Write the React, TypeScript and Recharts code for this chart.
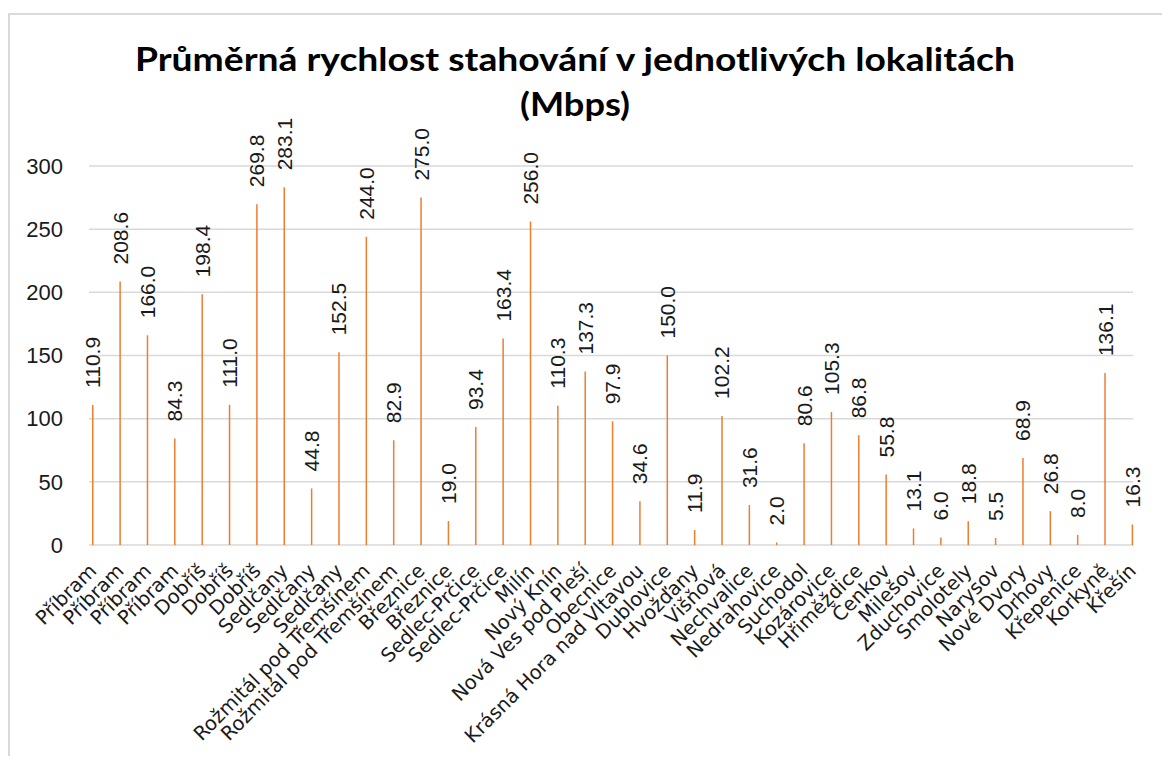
import React from 'react';
import { BarChart, Bar, XAxis, YAxis, CartesianGrid, LabelList } from 'recharts';

// localities (x axis)
const places = [
  'Příbram', 'Příbram', 'Příbram', 'Příbram', 'Dobříš', 'Dobříš', 'Dobříš',
  'Sedlčany', 'Sedlčany', 'Sedlčany', 'Rožmitál pod Třemšínem', 'Rožmitál pod Třemšínem',
  'Březnice', 'Březnice', 'Sedlec-Prčice', 'Sedlec-Prčice', 'Milín', 'Nový Knín',
  'Nová Ves pod Pleší', 'Obecnice', 'Krásná Hora nad Vltavou', 'Dublovice', 'Hvožďany',
  'Višňová', 'Nechvalice', 'Nedrahovice', 'Suchodol', 'Kozárovice', 'Hřiměždice',
  'Čenkov', 'Milešov', 'Zduchovice', 'Smolotely', 'Narysov', 'Nové Dvory', 'Drhovy',
  'Křepenice', 'Korkyně', 'Křešín',
];

// average download speed, Mbps
const speeds = [
  110.9, 208.6, 166.0, 84.3, 198.4, 111.0, 269.8, 283.1, 44.8, 152.5, 244.0, 82.9,
  275.0, 19.0, 93.4, 163.4, 256.0, 110.3, 137.3, 97.9, 34.6, 150.0, 11.9, 102.2,
  31.6, 2.0, 80.6, 105.3, 86.8, 55.8, 13.1, 6.0, 18.8, 5.5, 68.9, 26.8, 8.0, 136.1, 16.3,
];

const yTicks = [0, 50, 100, 150, 200, 250, 300];

const titleLines = ['Průměrná rychlost stahování v jednotlivých lokalitách', '(Mbps)'];

const data = places.map((p, i) => ({ key: `c${i}`, name: p, value: speeds[i] }));

const PlaceTick = (props: any) => {
  const { x, y, payload } = props;
  const label = places[payload.index] ?? '';
  return (
    <g transform={`translate(${x + 5},${y + 27}) rotate(-45)`}>
      <text textAnchor="end" fontFamily="DejaVu Sans" fontSize={19.5} fill="#1a1a1a">
        {label}
      </text>
    </g>
  );
};

const ValueLabel = (props: any) => {
  const { x, y, width, value } = props;
  const cx = x + width / 2;
  const ty = y - 17;
  return (
    <text
      x={cx}
      y={ty}
      transform={`rotate(-90, ${cx}, ${ty})`}
      textAnchor="start"
      dominantBaseline="central"
      fontFamily="Liberation Sans"
      fontSize={21}
      fill="#1a1a1a"
    >
      {Number(value).toFixed(1)}
    </text>
  );
};

export default function App() {
  return (
    <div style={{ width: 1154, height: 748, overflow: 'hidden', position: 'relative', background: '#fff' }}>
      <div
        style={{
          position: 'absolute', left: 0, top: 5, width: 1300, height: 900,
          border: '2px solid #d9d9d9', boxSizing: 'border-box',
        }}
      />
      <div style={{ position: 'absolute', left: 0, top: 0 }}>
        <BarChart
          width={1154}
          height={748}
          data={data}
          margin={{ top: 158, right: 29, bottom: 11, left: 21 }}
          barCategoryGap={0}
        >
          <text x={567} y={63} textAnchor="middle" fontFamily="Lato" fontWeight={700}
            fontSize={33} fill="#000" textLength={880} lengthAdjust="spacingAndGlyphs">
            {titleLines[0]}
          </text>
          <text x={567} y={108} textAnchor="middle" fontFamily="Lato" fontWeight={700}
            fontSize={33} fill="#000" textLength={110} lengthAdjust="spacingAndGlyphs">
            {titleLines[1]}
          </text>
          <CartesianGrid vertical={false} stroke="#d9d9d9" strokeWidth={1.5} />
          <XAxis
            dataKey="key"
            interval={0}
            height={200}
            axisLine={false}
            tickLine={false}
            tickSize={0}
            tickMargin={0}
            padding={{ left: -10, right: -13 }}
            tick={<PlaceTick />}
          />
          <YAxis
            width={60}
            domain={[0, 300]}
            ticks={yTicks}
            axisLine={false}
            tickLine={false}
            tickSize={0}
            tickMargin={26}
            tick={{ fontFamily: 'Liberation Sans', fontSize: 22, fill: '#1a1a1a' }}
          />
          <Bar dataKey="value" fill="#ED7D31" barSize={1.5} isAnimationActive={false}>
            <LabelList dataKey="value" content={<ValueLabel />} />
          </Bar>
        </BarChart>
      </div>
    </div>
  );
}
